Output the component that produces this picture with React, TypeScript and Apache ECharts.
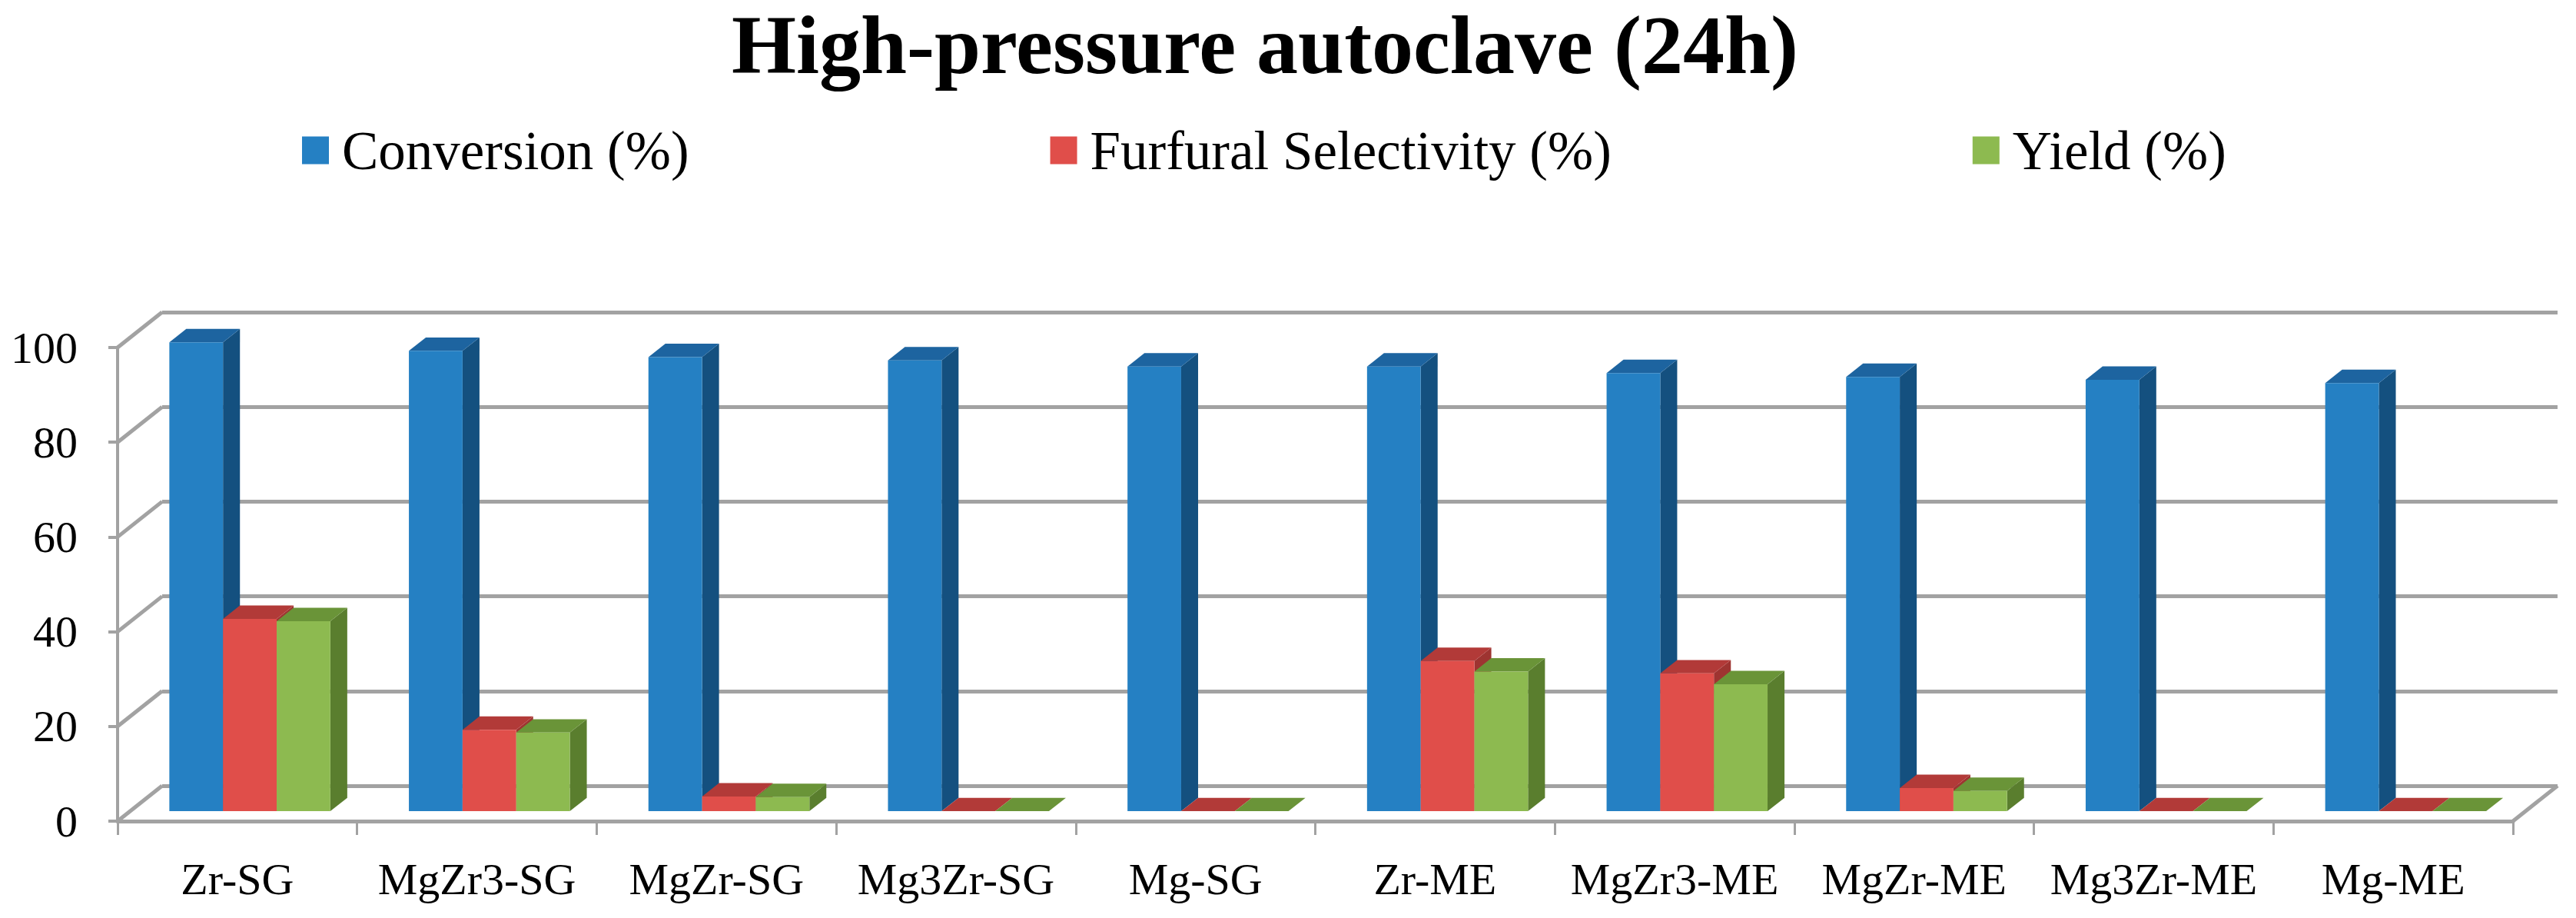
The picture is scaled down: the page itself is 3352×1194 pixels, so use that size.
import React, { useEffect, useRef } from "react";
import * as echarts from "echarts";

// ---- data ----
const categories = ["Zr-SG", "MgZr3-SG", "MgZr-SG", "Mg3Zr-SG", "Mg-SG", "Zr-ME", "MgZr3-ME", "MgZr-ME", "Mg3Zr-ME", "Mg-ME"];
const conversion = [99.0, 97.2, 95.9, 95.2, 93.9, 93.9, 92.5, 91.7, 91.1, 90.4];
const selectivity = [40.6, 17.2, 3.1, 0, 0, 31.7, 29.1, 4.9, 0, 0];
const yieldVals = [40.1, 16.6, 3.0, 0, 0, 29.5, 26.8, 4.3, 0, 0];
const yTicks = [0, 20, 40, 60, 80, 100];
const seriesNames = ["Conversion (%)", "Furfural Selectivity (%)", "Yield (%)"];

// ---- layout / style ----
const W = 3352;
const H = 1194;
const FONT = "'Liberation Serif', 'Times New Roman', serif";
const G = { left: 153, right: 82, top: 452, bottom: 126 };
const DX = 58; // depth offset of back wall
const DY = -46;
const FRONT_DEPTH = 0.28;
const BAR_DEPTH = 0.38;
const BAR_FRAC = 0.224;
const LINE = "#a2a2a2";
const palette = [
  { front: "#2580c3", top: "#1d64a0", side: "#14507f" },
  { front: "#e04e4a", top: "#b23a38", side: "#9e3431" },
  { front: "#8dba50", top: "#6a9438", side: "#5a7e2e" },
];

function barRenderer(k: number) {
  const c = palette[k];
  return (params: any, api: any) => {
    const i = api.value(0);
    const v = api.value(1);
    const base = api.coord([i, 0]);
    const topP = api.coord([i, v]);
    const band = api.size([1, 0])[0];
    const bw = band * BAR_FRAC;
    const x0 = base[0] - 1.5 * bw + k * bw + FRONT_DEPTH * DX;
    const yb = base[1] + FRONT_DEPTH * DY;
    const yt = topP[1] + FRONT_DEPTH * DY;
    const ddx = BAR_DEPTH * DX;
    const ddy = BAR_DEPTH * DY;
    return {
      type: "group",
      children: [
        {
          type: "polygon",
          shape: { points: [[x0 + bw, yb], [x0 + bw + ddx, yb + ddy], [x0 + bw + ddx, yt + ddy], [x0 + bw, yt]] },
          style: { fill: c.side },
        },
        {
          type: "polygon",
          shape: { points: [[x0, yt], [x0 + ddx, yt + ddy], [x0 + bw + ddx, yt + ddy], [x0 + bw, yt]] },
          style: { fill: c.top },
        },
        {
          type: "rect",
          shape: { x: x0, y: yt, width: bw, height: Math.max(0, yb - yt) },
          style: { fill: c.front },
        },
      ],
    };
  };
}

function wallRenderer(params: any, api: any) {
  const cs = params.coordSys;
  const v = api.value(1);
  const y = api.coord([0, v])[1];
  const children: any[] = [
    {
      type: "line",
      shape: { x1: cs.x, y1: y, x2: cs.x + DX, y2: y + DY },
      style: { stroke: LINE, lineWidth: 5 },
    },
  ];
  if (v === 0) {
    children.push({
      type: "line",
      shape: { x1: cs.x + cs.width, y1: y, x2: cs.x + cs.width + DX, y2: y + DY },
      style: { stroke: LINE, lineWidth: 5 },
    });
  }
  return { type: "group", children };
}

export default function App() {
  const ref = useRef<HTMLDivElement>(null);
  useEffect(() => {
    if (!ref.current) return;
    const chart = echarts.init(ref.current, undefined, { renderer: "svg", width: W, height: H });
    const valueSets = [conversion, selectivity, yieldVals];
    const option: any = {
      animation: false,
      backgroundColor: "#ffffff",
      title: {
        text: "High-pressure autoclave (24h)",
        left: 952,
        top: 4,
        padding: 0,
        textStyle: { fontFamily: FONT, fontWeight: "bold", fontSize: 108, color: "#000" },
      },
      legend: {
        data: seriesNames,
        left: 393,
        top: 160,
        padding: 0,
        itemWidth: 35,
        itemHeight: 36,
        itemGap: 470,
        icon: "rect",
        textStyle: { fontFamily: FONT, fontSize: 71, color: "#000", padding: [0, 0, 0, 12] },
      },
      grid: [
        { left: G.left, right: G.right, top: G.top, bottom: G.bottom },
        { left: G.left + DX, right: G.right - DX, top: G.top + DY, bottom: G.bottom - DY },
      ],
      xAxis: [
        {
          type: "category",
          gridIndex: 0,
          data: categories,
          boundaryGap: true,
          axisLine: { show: true, lineStyle: { color: LINE, width: 5 } },
          axisTick: { show: true, length: 18, lineStyle: { color: LINE, width: 3 } },
          axisLabel: { interval: 0, margin: 46, fontFamily: FONT, fontSize: 58, color: "#000" },
          splitLine: { show: false },
        },
        {
          type: "category",
          gridIndex: 1,
          data: categories,
          show: false,
        },
      ],
      yAxis: [
        {
          type: "value",
          gridIndex: 0,
          min: 0,
          max: 100,
          interval: 20,
          axisLine: { show: true, lineStyle: { color: LINE, width: 4 } },
          axisTick: { show: true, length: 12, lineStyle: { color: LINE, width: 4 } },
          axisLabel: { margin: 52, fontFamily: FONT, fontSize: 58, color: "#000" },
          splitLine: { show: false },
        },
        {
          type: "value",
          gridIndex: 1,
          min: 0,
          max: 100,
          interval: 20,
          axisLine: { show: false },
          axisTick: { show: false },
          axisLabel: { show: false },
          splitLine: { show: true, lineStyle: { color: LINE, width: 5 } },
        },
      ],
      series: [
        {
          type: "custom",
          name: "walls",
          xAxisIndex: 0,
          yAxisIndex: 0,
          data: yTicks.map((v) => [0, v]),
          renderItem: wallRenderer,
          silent: true,
          z: 1,
        },
        ...valueSets.map((vals, k) => ({
          type: "custom",
          name: seriesNames[k],
          xAxisIndex: 0,
          yAxisIndex: 0,
          data: vals.map((v, i) => [i, v]),
          encode: { x: 0, y: 1 },
          itemStyle: { color: palette[k].front },
          renderItem: barRenderer(k),
          z: 3,
        })),
      ],
    };
    chart.setOption(option);
    return () => chart.dispose();
  }, []);
  return (
    <div
      ref={ref}
      style={{ position: "fixed", left: 0, top: 0, width: W + "px", height: H + "px", background: "#fff" }}
    />
  );
}
